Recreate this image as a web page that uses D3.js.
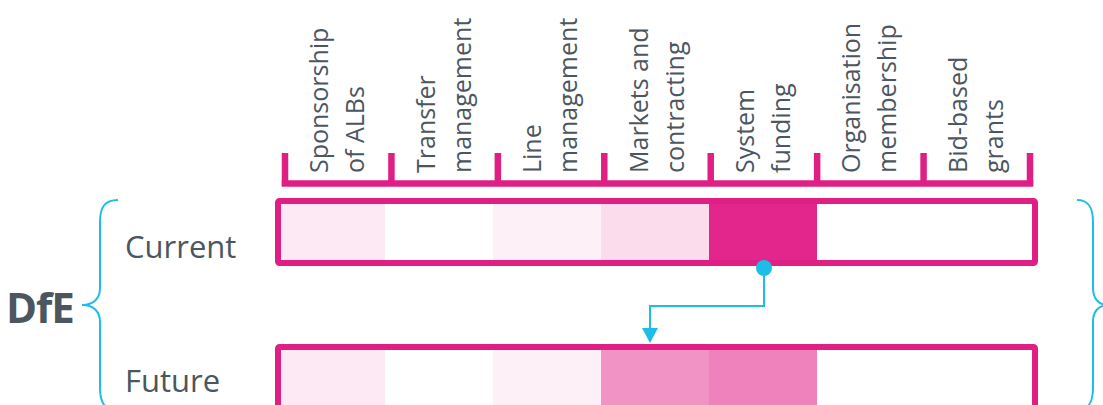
<!DOCTYPE html>
<html><head><meta charset="utf-8">
<script src="https://cdn.jsdelivr.net/npm/d3@7"></script>
<style>body{margin:0;background:#fff}svg{display:block}</style>
</head><body><svg id="c" width="1103" height="405"></svg>
<script>
const categories = [["Sponsorship","of ALBs"],["Transfer","management"],["Line","management"],["Markets and","contracting"],["System","funding"],["Organisation","membership"],["Bid-based","grants"]];
const rows = ["Current","Future"];
const currentValues = [0.1, 0, 0.07, 0.16, 1.0, 0, 0];
const futureValues = [0.1, 0, 0.07, 0.5, 0.58, 0, 0];
const groupLabel = "DfE";

const pink = "#e01f84", cyan = "#1cbee7", textCol = "#4b5660";
const svg = d3.select("#c");
const font = "'Open Sans', 'Noto Sans', sans-serif";

const xCell = d3.scaleBand().domain(d3.range(categories.length)).range([277,1033]);
const xHead = d3.scaleBand().domain(d3.range(categories.length)).range([285,1030]);
const yRow = d3.scaleOrdinal().domain(rows).range([201, 347]);
const yLabel = d3.scaleOrdinal().domain(rows).range([258, 392]);
const rowH = 62;
const color = d3.scaleLinear().domain([0,1]).range(["#ffffff","#e3268b"]).interpolate(d3.interpolateRgb);

// header bracket
const hb = svg.append("g");
hb.append("line").attr("x1", xHead(0)-3.2).attr("x2", xHead.range()[1]+3.2).attr("y1",183.5).attr("y2",183.5)
  .attr("stroke",pink).attr("stroke-width",6.5);
const tickXs = d3.range(categories.length+1).map(i => i<categories.length ? xHead(i) : xHead.range()[1]);
hb.selectAll("line.t").data(tickXs).join("line").attr("class","t")
  .attr("x1",d=>d).attr("x2",d=>d).attr("y1",153).attr("y2",186).attr("stroke",pink).attr("stroke-width",6.5);

// column labels
categories.forEach((lines,i)=>{
  const cx = xHead(i)+xHead.bandwidth()/2;
  lines.forEach((t,j)=>{
    svg.append("text").attr("transform",`translate(${cx-10+j*36},173) rotate(-90)`)
      .attr("font-family",font).attr("font-size",25).attr("fill",textCol).text(t);
  });
});

// rows
const rowData = {Current: currentValues, Future: futureValues};
rows.forEach(r=>{
  const g = svg.append("g");
  g.selectAll("rect.cell").data(rowData[r]).join("rect").attr("class","cell")
    .attr("x",(d,i)=>xCell(i)).attr("y",yRow(r)).attr("width",xCell.bandwidth()+0.5).attr("height",rowH)
    .attr("fill",d=>color(d));
  g.append("rect").attr("x",xCell.range()[0]+1).attr("y",yRow(r)).attr("width",xCell.range()[1]-xCell.range()[0]+1).attr("height",rowH)
    .attr("fill","none").attr("stroke",pink).attr("stroke-width",6).attr("rx",1.5);
  g.append("text").attr("x",125).attr("y",yLabel(r)).attr("font-family",font).attr("font-size",31)
    .attr("fill",textCol).text(r);
});

// DfE label
svg.append("text").attr("x",6).attr("y",323).attr("font-family",font).attr("font-weight","bold")
  .attr("font-size",42).attr("fill",textCol).attr("letter-spacing",-1).text(groupLabel);

// braces
svg.append("path").attr("d","M118,200 C104,200 100,208 100,222 L100,288 C100,298 94,305 82,305 C94,305 100,312 100,322 L100,388 C100,402 104,410 118,410")
  .attr("fill","none").attr("stroke",cyan).attr("stroke-width",2);
svg.append("path").attr("d","M1077,200 C1089,200 1093,208 1093,222 L1093,288 C1093,298 1098,305 1108,305 C1098,305 1093,312 1093,322 L1093,388 C1093,402 1089,410 1077,410")
  .attr("fill","none").attr("stroke",cyan).attr("stroke-width",2);

// connector from current System funding to future Markets
const fromX = xCell(4)+xCell.bandwidth()/2+1, toX = xCell(3)+xCell.bandwidth()/2-5;
svg.append("path").attr("d",`M${fromX},268 V306 H${toX} V330`).attr("fill","none").attr("stroke",cyan).attr("stroke-width",2);
svg.append("path").attr("d",`M${toX-8},328 L${toX+8},328 L${toX},343 Z`).attr("fill",cyan);
svg.append("circle").attr("cx",fromX).attr("cy",268).attr("r",8).attr("fill",cyan);
</script></body></html>
